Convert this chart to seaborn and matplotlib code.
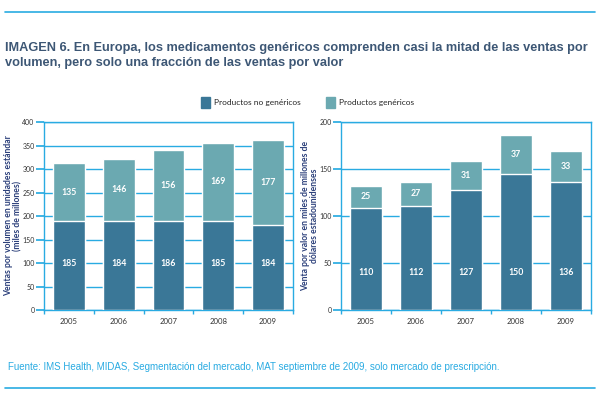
import numpy as np
import pandas as pd
import matplotlib
matplotlib.use("Agg")
import matplotlib.pyplot as plt
import seaborn as sns
from matplotlib.patches import Patch
from matplotlib.lines import Line2D

years = ["2005", "2006", "2007", "2008", "2009"]

# value labels printed on the bars
vol_no_gen_labels = [185, 184, 186, 185, 184]
vol_gen_labels = [135, 146, 156, 169, 177]
val_no_gen_labels = [110, 112, 127, 150, 136]
val_gen_labels = [25, 27, 31, 37, 33]

# bar heights as they are drawn in the original (not always equal to the labels)
vol_no_gen_drawn = [190, 190, 190, 190, 181]
vol_total_drawn = [312, 321, 340, 356, 362]
val_no_gen_drawn = [109, 111, 128, 145, 136]
val_total_drawn = [132, 136, 159, 186, 169]

DARK = "#3a7797"
TEAL = "#6ba9b1"
LINE = "#29abe2"
NAVY = "#2b3f7a"
TITLE = "#3d5775"

sns.set_theme(style="white")
plt.rcParams["font.family"] = ["Lato", "DejaVu Sans"]

fig = plt.figure(figsize=(6, 3.97), dpi=100)


def draw_panel(ax, totals, bottoms, top_labels, bottom_labels, ymax, step, ylabel, bottom_label_y):
    df = pd.DataFrame({"year": years, "total": totals, "bottom": bottoms})
    sns.barplot(data=df, x="year", y="total", color=TEAL, width=0.64,
                saturation=1, ax=ax, zorder=3)
    sns.barplot(data=df, x="year", y="bottom", color=DARK, width=0.64,
                saturation=1, ax=ax, zorder=3)
    for i in range(len(years)):
        ax.text(i, (bottoms[i] + totals[i]) / 2, str(top_labels[i]), ha="center",
                va="center", color="white", fontsize=6.3, fontweight="bold", zorder=4)
        ax.text(i, bottom_label_y, str(bottom_labels[i]), ha="center",
                va="center", color="white", fontsize=6.3, fontweight="bold", zorder=4)
    ax.set_ylim(0, ymax)
    ax.set_xlim(-0.5, 4.5)
    ax.set_yticks(np.arange(0, ymax + 1, step))
    ax.yaxis.grid(True, color=LINE, lw=1, zorder=0)
    ax.set_axisbelow(True)
    for s in ax.spines.values():
        s.set_color(LINE)
        s.set_linewidth(1)
    ax.set_xlabel("")
    ax.set_ylabel(ylabel, color=NAVY, fontsize=6.2, fontweight="bold", labelpad=1,
                  linespacing=1.0)
    ax.tick_params(axis="y", length=5.5, color=LINE, labelsize=5.0, labelcolor="#333333",
                   left=True, pad=1.2)
    ax.tick_params(axis="x", which="major", length=0, labelsize=5.6,
                   labelcolor="#333333", pad=6)
    ax.set_xticks(np.arange(-0.5, 5, 1), minor=True)
    ax.tick_params(axis="x", which="minor", length=3, color=LINE, bottom=True)


ax1 = fig.add_axes([0.0733, 0.219, 0.415, 0.4736])
draw_panel(ax1, vol_total_drawn, vol_no_gen_drawn, vol_gen_labels, vol_no_gen_labels,
           400, 50, "Ventas por volumen en unidades estándar\n(miles de millones)", 100)

ax2 = fig.add_axes([0.568, 0.219, 0.4167, 0.4736])
draw_panel(ax2, val_total_drawn, val_no_gen_drawn, val_gen_labels, val_no_gen_labels,
           200, 50, "Venta por valor en miles de millones de\ndólares estadounidenses", 40)
ax1.yaxis.set_label_coords(-0.088, 0.5)
ax2.yaxis.set_label_coords(-0.088, 0.5)

# legend
fig.legend(handles=[Patch(color=DARK, label="Productos no genéricos")],
           loc="center left", bbox_to_anchor=(0.322, 0.742), frameon=False,
           fontsize=6, handlelength=1.1, handleheight=1.6, handletextpad=0.5)
fig.legend(handles=[Patch(color=TEAL, label="Productos genéricos")],
           loc="center left", bbox_to_anchor=(0.530, 0.742), frameon=False,
           fontsize=6, handlelength=1.1, handleheight=1.6, handletextpad=0.5)

# title, source and rules
fig.text(0.009, 0.860,
         "IMAGEN 6. En Europa, los medicamentos genéricos comprenden casi la mitad de las ventas por\n"
         "volumen, pero solo una fracción de las ventas por valor",
         ha="left", va="center", fontsize=9.2, fontweight="bold", color=TITLE,
         family=["Liberation Sans", "DejaVu Sans"], linespacing=1.3)
fig.text(0.013, 0.075,
         "Fuente: IMS Health, MIDAS, Segmentación del mercado, MAT septiembre de 2009, solo mercado de prescripción.",
         ha="left", va="center", fontsize=7.0, color=LINE,
         family=["Liberation Sans", "DejaVu Sans"])
fig.add_artist(Line2D([0.008, 0.992], [1 - 12 / 397, 1 - 12 / 397], color=LINE, lw=1.2,
                      transform=fig.transFigure))
fig.add_artist(Line2D([0.008, 0.992], [1 - 388 / 397, 1 - 388 / 397], color=LINE, lw=1.2,
                      transform=fig.transFigure))

fig.savefig("out.png", dpi=100, facecolor="white")
